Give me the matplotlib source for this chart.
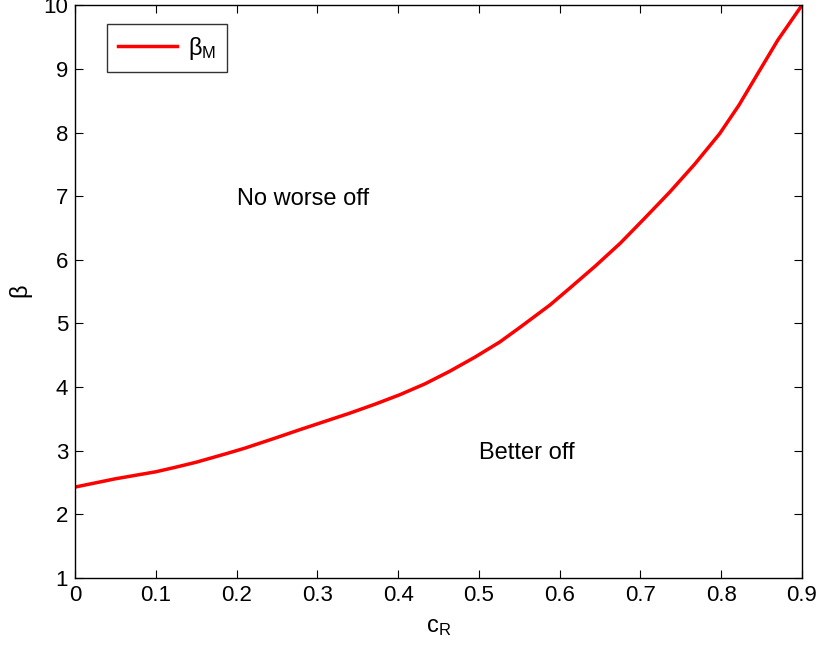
import numpy as np
import matplotlib.pyplot as plt

plt.rcParams['font.family'] = ['Liberation Sans', 'DejaVu Sans']
plt.rcParams['mathtext.fontset'] = 'custom'
plt.rcParams['mathtext.rm'] = 'Liberation Sans'
plt.rcParams['mathtext.it'] = 'Liberation Sans'

# Threshold curve beta_M(c_R)
c_R = [0.0, 0.05, 0.10, 0.124, 0.15, 0.186, 0.21, 0.248, 0.278, 0.309,
       0.340, 0.371, 0.402, 0.433, 0.464, 0.495, 0.526, 0.551, 0.588,
       0.613, 0.644, 0.675, 0.705, 0.736, 0.767, 0.798, 0.822, 0.845,
       0.870, 0.90]
beta_M = [2.43, 2.56, 2.67, 2.74, 2.82, 2.95, 3.04, 3.20, 3.33, 3.46,
          3.59, 3.73, 3.88, 4.05, 4.25, 4.47, 4.71, 4.94, 5.29,
          5.56, 5.90, 6.26, 6.65, 7.06, 7.50, 7.98, 8.43, 8.92,
          9.45, 10.0]

fig = plt.figure(figsize=(8.19, 6.51), dpi=100)
ax = fig.add_axes([0.0916, 0.112, 0.8876, 0.880])

ax.plot(c_R, beta_M, color='red', lw=2.5, label=r'$\beta_{\mathrm{M}}$')

ax.text(0.2, 6.95, 'No worse off', fontsize=17, va='center', ha='left')
ax.text(0.5, 2.97, 'Better off', fontsize=17, va='center', ha='left')

ax.set_xlim(0, 0.9)
ax.set_ylim(1, 10)
ax.set_xticks(np.arange(0, 0.91, 0.1))
ax.set_xticklabels(['0', '0.1', '0.2', '0.3', '0.4', '0.5', '0.6', '0.7', '0.8', '0.9'])
ax.set_yticks(range(1, 11))
ax.tick_params(direction='in', top=True, right=True, length=5.5, width=0.8,
               labelsize=16, pad=5)
for s in ax.spines.values():
    s.set_linewidth(1.0)

ax.set_xlabel(r'c$_{\mathrm{R}}$', fontsize=17, labelpad=7)
ax.set_ylabel(r'$\beta$', fontsize=17, labelpad=6)

leg = ax.legend(loc='upper left', bbox_to_anchor=(0.044, 0.967), fontsize=17,
                frameon=True, fancybox=False, edgecolor='black',
                handlelength=2.5, borderpad=0.45, borderaxespad=0,
                handletextpad=0.5)
leg.get_frame().set_linewidth(1.0)

fig.savefig('out.png', dpi=100)
